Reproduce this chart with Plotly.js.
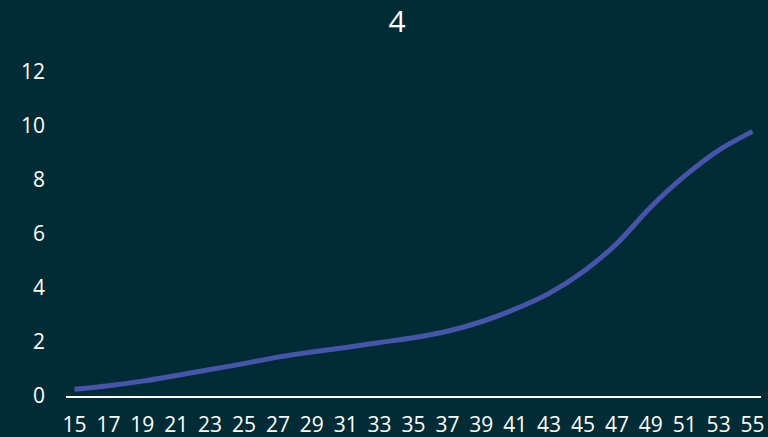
<!DOCTYPE html>
<html>
<head>
<meta charset="utf-8">
<script src="https://cdn.plot.ly/plotly-3.0.1.min.js"></script>
<style>html,body{margin:0;padding:0;background:#022c35;}#chart{width:768px;height:437px;}</style>
</head>
<body>
<div id="chart"></div>
<script>
const chartTitle = "4";
const xValues = [15, 17, 19, 21, 23, 25, 27, 29, 31, 33, 35, 37, 39, 41, 43, 45, 47, 49, 51, 53, 55];
const yValues = [0.25, 0.38, 0.55, 0.76, 0.98, 1.2, 1.44, 1.63, 1.8, 1.98, 2.16, 2.4, 2.75, 3.22, 3.8, 4.6, 5.65, 7.0, 8.15, 9.1, 9.8];
const xTickVals = xValues;
const xTickText = xValues.map(String);
const yTickVals = [0, 2, 4, 6, 8, 10, 12];

const trace = {
  x: xValues,
  y: yValues,
  type: 'scatter',
  mode: 'lines',
  line: {color: '#4655AA', width: 5, shape: 'spline', smoothing: 0.8},
  hoverinfo: 'skip'
};

const layout = {
  width: 768, height: 437,
  paper_bgcolor: '#022c35',
  plot_bgcolor: '#022c35',
  margin: {l: 66, r: 7, t: 72, b: 41},
  showlegend: false,
  font: {family: '"Open Sans", sans-serif', color: '#ffffff', size: 21},
  title: {text: chartTitle, x: 0.517, xref: 'container', xanchor: 'center', y: 0.95, yref: 'container', yanchor: 'middle', font: {size: 30, color: '#ffffff', family: '"Open Sans", sans-serif'}},
  xaxis: {
    range: [14.5, 55.5],
    tickvals: xTickVals, ticktext: xTickText,
    showgrid: false, zeroline: false,
    showline: true, linecolor: '#ffffff', linewidth: 2,
    ticks: '', ticklabelstandoff: 9,
    tickfont: {size: 21, color: '#ffffff'},
    fixedrange: true
  },
  yaxis: {
    range: [0, 12],
    tickvals: yTickVals,
    showgrid: false, zeroline: false, showline: false,
    ticks: '', ticklabelstandoff: 20,
    tickfont: {size: 21, color: '#ffffff'},
    fixedrange: true
  }
};

Plotly.newPlot('chart', [trace], layout, {displayModeBar: false, staticPlot: true});
</script>
</body>
</html>
